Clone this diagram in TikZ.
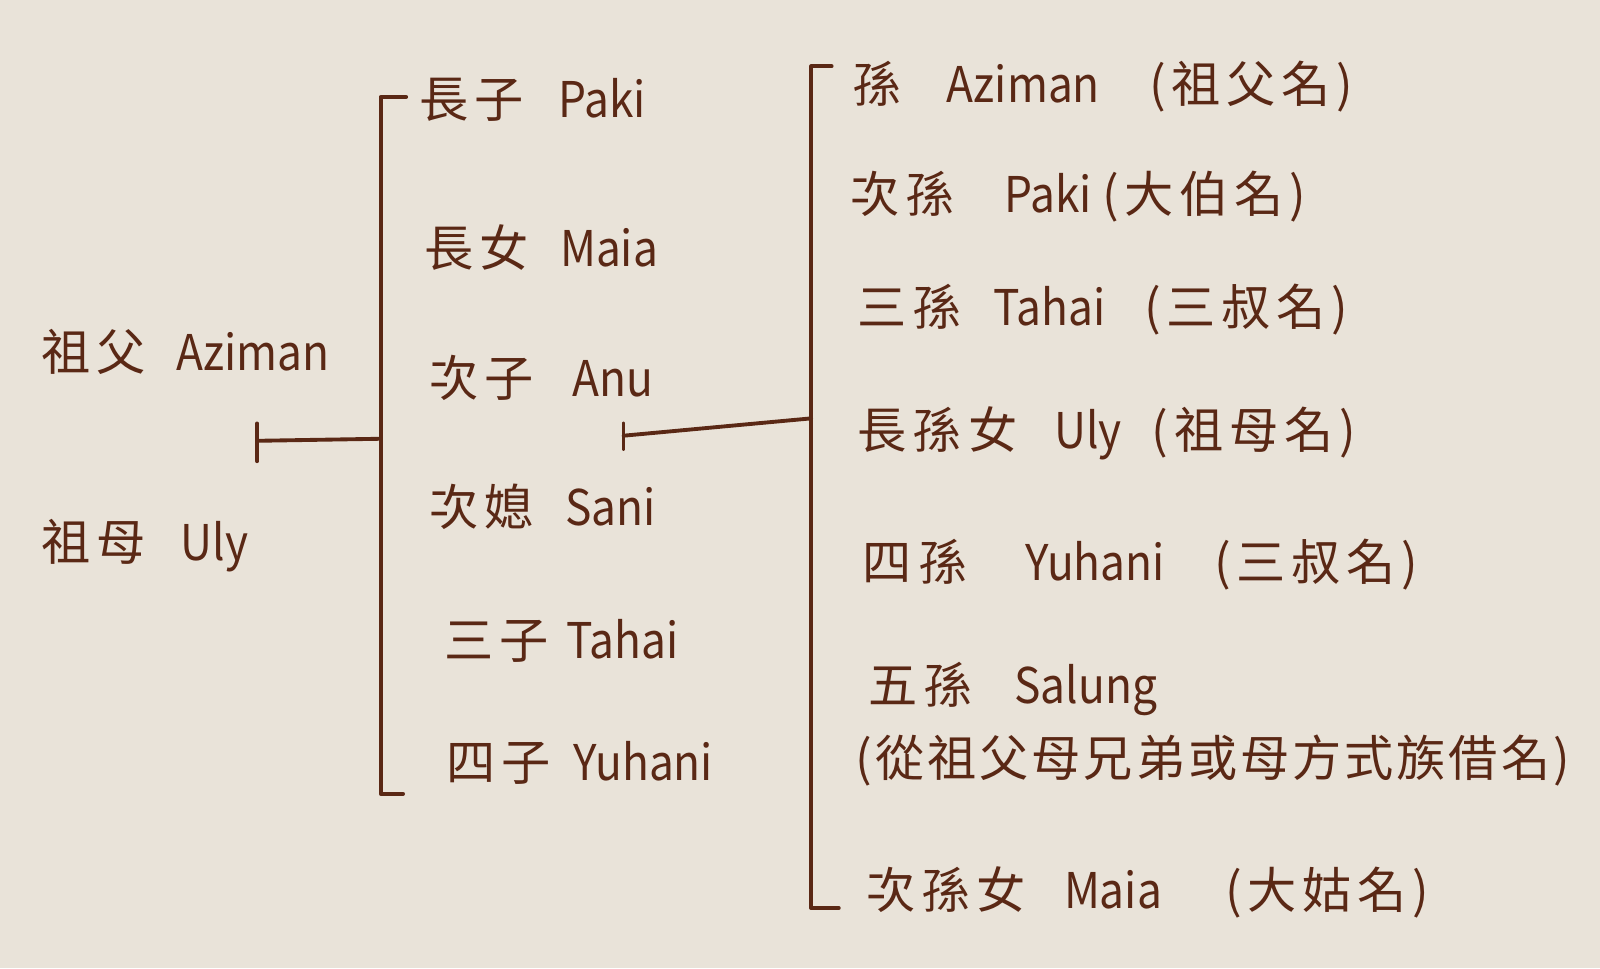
\documentclass[tikz,border=0pt]{standalone}
\usepackage{graphicx}
\usepackage{fontspec}
\setmainfont{Noto Sans CJK TC}
\usetikzlibrary{positioning}
\definecolor{ink}{HTML}{5A2815}
\definecolor{paper}{HTML}{E9E3D9}
\newcommand{\inkw}{1.1pt}
\newcommand{\zh}[1]{{\addfontfeatures{LetterSpace=12}#1}}
\newcommand{\nm}[1]{\scalebox{0.9}[1]{#1}}

\begin{document}
\begin{tikzpicture}[x=0.010204cm,y=-0.010204cm]
            \tikzset{person/.style = {anchor=west, inner sep=0pt, text=ink, font=\fontsize{14}{16}\selectfont}}
            \tikzset{kin/.style = {draw=ink, line width=\inkw, line cap=round, line join=round}}
            \fill[paper] (0,0) rectangle (1568,949);
            \useasboundingbox (0,0) rectangle (1568,949);
            % grandparents
            \node[person] (gf) at (40,345) {\zh{祖父}\hspace{8.7pt}\nm{Aziman}};
            \node[person] (gm) at (40,535) {\zh{祖母}\hspace{10pt}\nm{Uly}};
            % children
            \node[person] (c1) at (410,98) {\zh{長子}\hspace{10pt}\nm{Paki}};
            \node[person] (c2) at (415,243) {\zh{長女}\hspace{9pt}\nm{Maia}};
            \node[person] (c3) at (420,370) {\zh{次子}\hspace{11pt}\nm{Anu}};
            \node[person] (c4) at (420,497) {\zh{次媳}\hspace{9pt}\nm{Sani}};
            \node[person] (c5) at (435,628) {\zh{三子}\hspace{5pt}\nm{Tahai}};
            \node[person] (c6) at (437,748) {\zh{四子}\hspace{6.4pt}\nm{Yuhani}};
            % grandchildren
            \node[person] (g1) at (835,85) {\zh{孫}\hspace{12.8pt}\nm{Aziman}\hspace{14pt}\zh{(祖父名)}};
            \node[person] (g2) at (833,193) {\zh{次孫}\hspace{14pt}\nm{Paki}\hspace{3pt}\zh{(大伯名)}};
            \node[person] (g3) at (840,303) {\zh{三孫}\hspace{9pt}\nm{Tahai}\hspace{11pt}\zh{(三叔名)}};
            \node[person] (g4) at (840,425) {\zh{長孫女}\hspace{10.5pt}\nm{Uly}\hspace{8.5pt}\zh{(祖母名)}};
            \node[person] (g5) at (845,553) {\zh{四孫}\hspace{16.5pt}\nm{Yuhani}\hspace{14pt}\zh{(三叔名)}};
            \node[person] (g6) at (850,675) {\zh{五孫}\hspace{12pt}\nm{Salung}};
            \node[person] (g6n) at (838,745) {{\addfontfeatures{LetterSpace=6}(從祖父母兄弟或母方式族借名)}};
            \node[person] (g7) at (848,875) {\zh{次孫女}\hspace{11pt}\nm{Maia}\hspace{18pt}\zh{(大姑名)}};
            % brackets
            \coordinate (pa) at (252,415);
            \coordinate (pb) at (252,452);
            \coordinate (pm) at (252,432);
            \coordinate (k0) at (398,95);
            \coordinate (k1) at (373,95);
            \coordinate (km) at (373,430);
            \coordinate (k2) at (373,778);
            \coordinate (k3) at (395,778);
            \coordinate (qa) at (611,415);
            \coordinate (qb) at (611,440);
            \coordinate (qm) at (611,427);
            \coordinate (r0) at (815,65);
            \coordinate (r1) at (795,65);
            \coordinate (rm) at (795,410);
            \coordinate (r2) at (795,890);
            \coordinate (r3) at (822,890);
            \draw[kin] (pa) -- (pb);
            \draw[kin] (pm) -- (km);
            \draw[kin] (k0) -- (k1) -- (k2) -- (k3);
            \draw[kin] (qa) -- (qb);
            \draw[kin] (qm) -- (rm);
            \draw[kin] (r0) -- (r1) -- (r2) -- (r3);
\end{tikzpicture}
\end{document}
